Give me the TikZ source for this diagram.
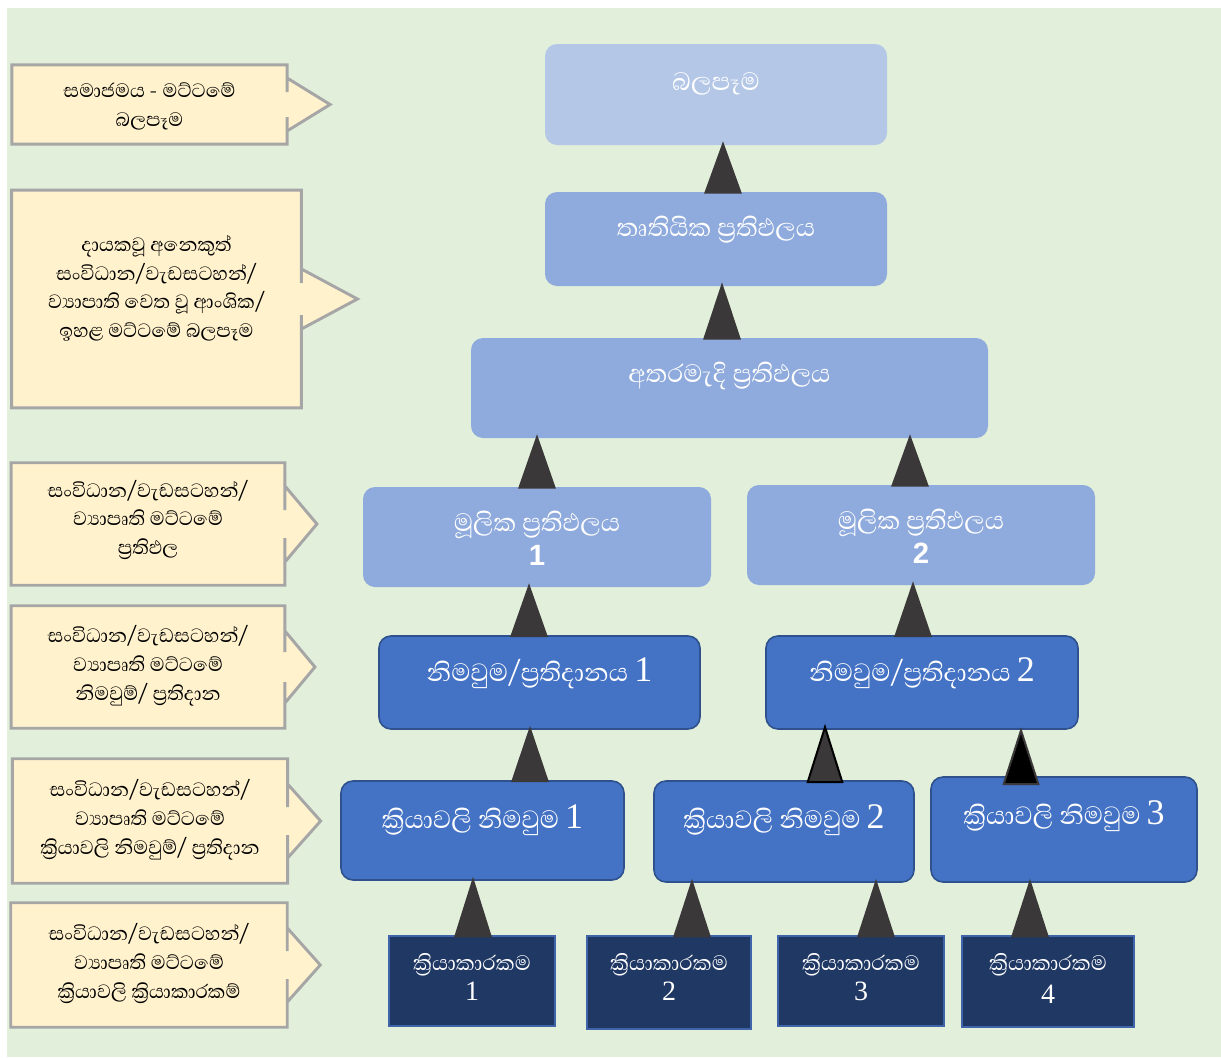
\documentclass[tikz,border=0pt]{standalone}
\usepackage{fontspec}
\newfontfamily\sinhfont[Script=Sinhala]{Abhaya Libre}
\newfontfamily\numsans{Liberation Sans}
\newfontfamily\numserif{Liberation Serif}
\usetikzlibrary{positioning}

\definecolor{bgcol}{HTML}{E2EFDA}
\definecolor{callfill}{HTML}{FFF2CC}
\definecolor{calldraw}{HTML}{A6A6A6}
\definecolor{impcol}{HTML}{B4C7E7}
\definecolor{rescol}{HTML}{8FAADC}
\definecolor{outcol}{HTML}{4472C4}
\definecolor{outdraw}{HTML}{2F528F}
\definecolor{actcol}{HTML}{203864}
\definecolor{actdraw}{HTML}{3F64AA}
\definecolor{tricol}{HTML}{3A3838}

\newcommand{\bnum}[1]{{\numserif\fontsize{27}{25}\selectfont #1}}
\newcommand{\anum}[1]{{\numserif\fontsize{21}{21.5}\selectfont #1}}
\newcommand{\pnum}[1]{{\numsans\bfseries\fontsize{22}{22}\selectfont #1}}

\begin{document}
\begin{tikzpicture}[x=0.75pt,y=-0.75pt,
  every node/.style={font=\sinhfont},
  calltext/.style={align=center,inner sep=0pt,font=\sinhfont\fontsize{18.5}{21.5}\selectfont},
  callout/.style={draw=calldraw,fill=callfill,line width=2.2pt},
  lightbox/.style={fill=impcol,rounded corners=9pt,inner sep=0pt},
  resbox/.style={fill=rescol,rounded corners=9pt,inner sep=0pt},
  outbox/.style={fill=outcol,draw=outdraw,line width=1.2pt,rounded corners=9pt,inner sep=0pt},
  actbox/.style={fill=actcol,draw=actdraw,line width=1pt,inner sep=0pt},
  btext/.style={anchor=north,yshift=-15pt,text=white,align=center,font=\sinhfont\fontsize{24}{25}\selectfont},
  atext/.style={anchor=north,yshift=-10pt,text=white,align=center,font=\sinhfont\fontsize{20}{21.5}\selectfont},
  tri/.style={fill=tricol}]

  % background
  \fill[bgcol] (7,8) rectangle (1221,1057);
  \useasboundingbox (0,0) rectangle (1221,1057);

  % level notes on the left
  \node[calltext,minimum width=206pt,minimum height=59pt] (c1) at (149.5,104.5) {};
  \node[calltext,minimum width=217pt,minimum height=163pt] (c2) at (156.5,299) {};
  \node[calltext,minimum width=205pt,minimum height=91.5pt] (c3) at (148,524) {};
  \node[calltext,minimum width=205pt,minimum height=91.5pt] (c4) at (148,667) {};
  \node[calltext,minimum width=206pt,minimum height=93pt] (c5) at (150,821) {};
  \node[calltext,minimum width=207pt,minimum height=93pt] (c6) at (149,965) {};

  \foreach \c/\n/\h/\t in {c1/12.5/26.5/43, c2/16/30/56, c3/14/38/32, c4/15/36/30, c5/14/37/33, c6/14/37/33}
    \draw[callout] (\c.north west) -- (\c.north east) -- ([yshift=\n*0.75pt]\c.east)
      -- ([yshift=\h*0.75pt]\c.east) -- ([xshift=\t*0.75pt]\c.east)
      -- ([yshift=-\h*0.75pt]\c.east) -- ([yshift=-\n*0.75pt]\c.east)
      -- (\c.south east) -- (\c.south west) -- cycle;

  \node[calltext] (c1t) at ([yshift=-1.5pt]c1) {සමාජමය - මට්ටමේ\\බලපෑම};
  \node[calltext] (c2t) at ([yshift=8pt]c2) {දායකවූ අනෙකුත්\\සංවිධාන/වැඩසටහන්/\\ව්‍යාපාති වෙත වූ ආංශික/\\ඉහළ මට්ටමේ බලපෑම};
  \node[calltext] (c3t) at ([yshift=3pt]c3) {සංවිධාන/වැඩසටහන්/\\ව්‍යාපෘති මට්ටමේ\\ප්‍රතිඵල};
  \node[calltext] (c4t) at ([yshift=1pt]c4) {සංවිධාන/වැඩසටහන්/\\ව්‍යාපෘති මට්ටමේ\\නිමවුම්/ ප්‍රතිදාන};
  \node[calltext] (c5t) at ([yshift=1pt]c5) {සංවිධාන/වැඩසටහන්/\\ව්‍යාපෘති මට්ටමේ\\ක්‍රියාවලි නිමවුම්/ ප්‍රතිදාන};
  \node[calltext] (c6t) at ([yshift=1pt]c6) {සංවිධාන/වැඩසටහන්/\\ව්‍යාපෘති මට්ටමේ\\ක්‍රියාවලි ක්‍රියාකාරකම්};

  % result chain
  \node[lightbox,minimum width=256.5pt,minimum height=75.75pt,label={[btext,yshift=-3pt]north:බලපෑම}] (imp) at (716,94.5) {};
  \node[resbox,minimum width=256.5pt,minimum height=70.5pt,label={[btext]north:තෘතියික ප්‍රතිඵලය}] (tert) at (716,239) {};
  \node[resbox,minimum width=387.75pt,minimum height=75pt,label={[btext]north:අතරමැදි ප්‍රතිඵලය}] (inter) at (729.5,388) {};
  \node[resbox,minimum width=261pt,minimum height=75pt,label={[btext]north:මූලික ප්‍රතිඵලය\\\pnum{1}}] (prim1) at (537,537) {};
  \node[resbox,minimum width=261pt,minimum height=75pt,label={[btext]north:මූලික ප්‍රතිඵලය\\\pnum{2}}] (prim2) at (921,535) {};
  \node[outbox,minimum width=240.75pt,minimum height=69.75pt,label={[btext,yshift=2pt]north:නිමවුම/ප්‍රතිදානය \bnum{1}}] (out1) at (539.5,682.5) {};
  \node[outbox,minimum width=234pt,minimum height=69.75pt,label={[btext,yshift=2pt]north:නිමවුම/ප්‍රතිදානය \bnum{2}}] (out2) at (922,682.5) {};
  \node[outbox,minimum width=212.25pt,minimum height=74.25pt,label={[btext]north:ක්‍රියාවලි නිමවුම \bnum{1}}] (proc1) at (482.5,830.5) {};
  \node[outbox,minimum width=195pt,minimum height=75.75pt,label={[btext]north:ක්‍රියාවලි නිමවුම \bnum{2}}] (proc2) at (784,831.5) {};
  \node[outbox,minimum width=199.5pt,minimum height=78.75pt,label={[btext]north:ක්‍රියාවලි නිමවුම \bnum{3}}] (proc3) at (1064,829.5) {};
  \node[actbox,minimum width=124.5pt,minimum height=67.5pt,label={[atext]north:ක්‍රියාකාරකම\\[1pt]\anum{1}}] (act1) at (472,981) {};
  \node[actbox,minimum width=123pt,minimum height=69.75pt,label={[atext]north:ක්‍රියාකාරකම\\[1pt]\anum{2}}] (act2) at (669,982.5) {};
  \node[actbox,minimum width=124.5pt,minimum height=67.5pt,label={[atext]north:ක්‍රියාකාරකම\\[1pt]\anum{3}}] (act3) at (861,981) {};
  \node[actbox,minimum width=129pt,minimum height=68.25pt,label={[atext]north:ක්‍රියාකාරකම\\[3pt]\anum{4}}] (act4) at (1048,981.5) {};

  % arrows
  \foreach \x/\lo/\up in {723/tert/imp, 722/inter/tert, 537/prim1/inter, 910/prim2/inter,
      529/out1/prim1, 913/out2/prim2, 530/proc1/out1, 473/act1/proc1, 692/act2/proc2,
      876/act3/proc2, 1030/act4/proc3}
    \fill[tri] ([xshift=-14.25pt,yshift=-1.5pt]\lo.north -| \x,0) -- ([yshift=3pt]\up.south -| \x,0)
      -- ([xshift=14.25pt,yshift=-1.5pt]\lo.north -| \x,0) -- cycle;
  \draw[tri,draw=black,line width=1.5pt] ([xshift=-13pt,yshift=-1.5pt]proc2.north -| 825,0)
    -- ([yshift=2pt]out2.south -| 825,0) -- ([xshift=13pt,yshift=-1.5pt]proc2.north -| 825,0) -- cycle;
  \draw[fill=black,draw=tricol,line width=1.5pt] ([xshift=-13pt,yshift=-6pt]proc3.north -| 1021,0)
    -- ([yshift=-0.5pt]out2.south -| 1021,0) -- ([xshift=13pt,yshift=-6pt]proc3.north -| 1021,0) -- cycle;
\end{tikzpicture}
\end{document}
